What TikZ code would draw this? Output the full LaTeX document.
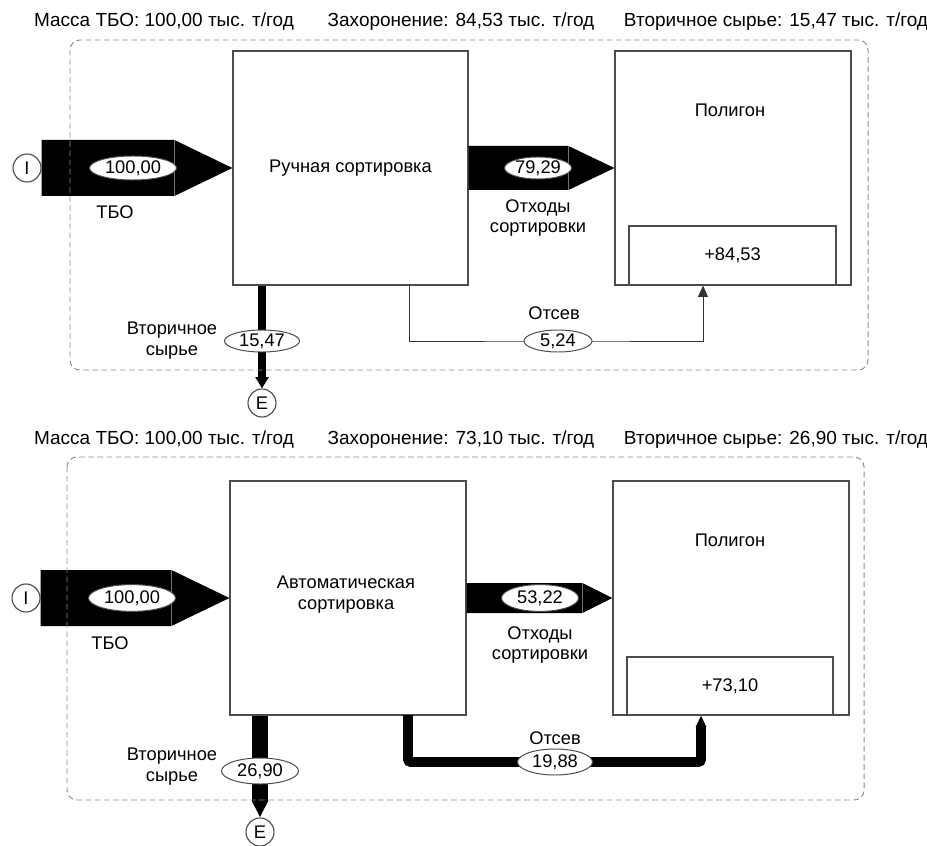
\documentclass[tikz,border=0pt]{standalone}
\usepackage{fontspec}
\setmainfont{Liberation Sans}
\usetikzlibrary{arrows.meta,positioning,calc,shapes.geometric}

\begin{document}
\begin{tikzpicture}[x=0.025cm, y=-0.025cm,
    every node/.style={font=\fontsize{13}{15}\selectfont, align=center},
    box/.style={draw=black!70, line width=0.8pt, inner sep=0pt},
    val/.style={ellipse, draw=black!70, line width=0.7pt, fill=white, inner sep=0pt},
    term/.style={circle, draw=black!70, line width=0.8pt, minimum size=0.7cm, inner sep=0pt},
    seam/.style={draw=black!55, line width=0.4pt},
    frame/.style={draw=black!45, line width=0.7pt, dash pattern=on 4pt off 2.5pt, rounded corners=7pt},
    title/.style={font=\fontsize{13.5}{15}\selectfont}]

    \useasboundingbox (0,0) rectangle (927,846);

    % ---------- Manual sorting ----------
    \node[title] (tA1) at (164,22) {Масса ТБО: 100,00 тыс. т/год};
    \node[title] (tA2) at (461,22) {Захоронение: 84,53 тыс. т/год};
    \node[title] (tA3) at (776,22) {Вторичное сырье: 15,47 тыс. т/год};

    % Blocks
    \node[box, minimum width=5.875cm, minimum height=5.85cm] (sortA) at (350.5,168) {Ручная сортировка};
    \node[box, minimum width=5.9cm, minimum height=5.85cm] (polyA) at (733,168) {};
    \node (nameA) at (730,110) {Полигон};
    \node[box, minimum width=5.175cm, minimum height=1.475cm] (landA) at (732.5,255.5) {+84,53};
    \node[term] (IA) at (27,168) {I};
    \node[term] (EA) at (262,403) {E};

    % Wide flows
    \fill ($(IA.east)+(0,-28)$) -- ($(sortA.west)+(-58,-28)$) -- (sortA.west)
        -- ($(sortA.west)+(-58,28)$) -- ($(IA.east)+(0,28)$) -- cycle;
    \fill ($(sortA.east)+(0,-22)$) -- ($(polyA.west)+(-46,-22)$) -- (polyA.west)
        -- ($(polyA.west)+(-46,22)$) -- ($(sortA.east)+(0,22)$) -- cycle;
    \draw[seam] ($(sortA.west)+(-58,-28)$) -- ++(0,56);
    \draw[seam] ($(polyA.west)+(-46,-22)$) -- ++(0,44);
    \node[val, minimum width=2.175cm, minimum height=0.6cm] (vA1) at (133,168) {100,00};
    \node[val, minimum width=1.675cm, minimum height=0.55cm] (vA2) at (538,168) {79,29};
    \node (lA1) at (115,212) {ТБО};
    \node[font=\fontsize{13}{14.5}\selectfont] (lA2) at (538,218) {Отходы\\сортировки};

    % Secondary raw material and screenings
    \coordinate (dA) at (sortA.south -| EA);
    \coordinate (sA) at (409,285);
    \coordinate (gA) at (landA.south -| 703,0);
    \draw[line width=5pt, -{Triangle[width=9pt,length=8pt]}] (dA) -- (EA.north);
    \draw[black!80, line width=0.7pt, -{Triangle[width=7pt,length=8pt]}] (sA) |- (558,341) -| (gA);
    \node[val, minimum width=1.875cm, minimum height=0.55cm] (vA3) at (262,341) {15,47};
    \node[val, minimum width=1.7cm, minimum height=0.55cm] (vA4) at (558,341) {5,24};
    \node (lA3) at (172,341) {Вторичное\\сырье};
    \node (lA4) at (554,313) {Отсев};

    \draw[frame] (70,40) rectangle (868,370);

    % ---------- Automatic sorting ----------
    \node[title] (tB1) at (164,440) {Масса ТБО: 100,00 тыс. т/год};
    \node[title] (tB2) at (461,440) {Захоронение: 73,10 тыс. т/год};
    \node[title] (tB3) at (776,440) {Вторичное сырье: 26,90 тыс. т/год};

    % Blocks
    \node[box, minimum width=5.9cm, minimum height=5.85cm] (sortB) at (348,598) {};
    \node (nameB1) at (346,595) {Автоматическая\\сортировка};
    \node[box, minimum width=5.9cm, minimum height=5.85cm] (polyB) at (731,598) {};
    \node (nameB2) at (730,540) {Полигон};
    \node[box, minimum width=5.15cm, minimum height=1.45cm] (landB) at (730,686) {+73,10};
    \node[term] (IB) at (26,598) {I};
    \node[term] (EB) at (260,832) {E};

    % Wide flows
    \fill ($(IB.east)+(0,-28)$) -- ($(sortB.west)+(-58,-28)$) -- (sortB.west)
        -- ($(sortB.west)+(-58,28)$) -- ($(IB.east)+(0,28)$) -- cycle;
    \fill ($(sortB.east)+(0,-15)$) -- ($(polyB.west)+(-30,-15)$) -- (polyB.west)
        -- ($(polyB.west)+(-30,15)$) -- ($(sortB.east)+(0,15)$) -- cycle;
    \draw[seam] ($(sortB.west)+(-58,-28)$) -- ++(0,56);
    \draw[seam] ($(polyB.west)+(-30,-15)$) -- ++(0,30);
    \node[val, minimum width=2.175cm, minimum height=0.67cm] (vB1) at (132,598) {100,00};
    \node[val, minimum width=1.925cm, minimum height=0.67cm] (vB2) at (540,598) {53,22};
    \node (lB1) at (110,643) {ТБО};
    \node[font=\fontsize{13}{14.5}\selectfont] (lB2) at (540,645) {Отходы\\сортировки};

    % Secondary raw material and screenings
    \coordinate (dB) at (sortB.south -| EB);
    \coordinate (sB) at (408,715);
    \coordinate (gB) at (landB.south -| 701,0);
    \draw[line width=10.7pt, -{Triangle[width=11pt,length=12pt]}] (dB) -- (EB.north);
    \draw[line width=7pt, rounded corners=2pt, -{Triangle[width=7pt,length=8pt]}] (sB) |- (555,762) -| (gB);
    \node[val, minimum width=1.925cm, minimum height=0.65cm] (vB3) at (260,771) {26,90};
    \node[val, minimum width=1.875cm, minimum height=0.65cm] (vB4) at (555,762) {19,88};
    \node (lB3) at (172,767) {Вторичное\\сырье};
    \node (lB4) at (555,738) {Отсев};

    \draw[frame] (67,457) rectangle (864,800);

\end{tikzpicture}
\end{document}
